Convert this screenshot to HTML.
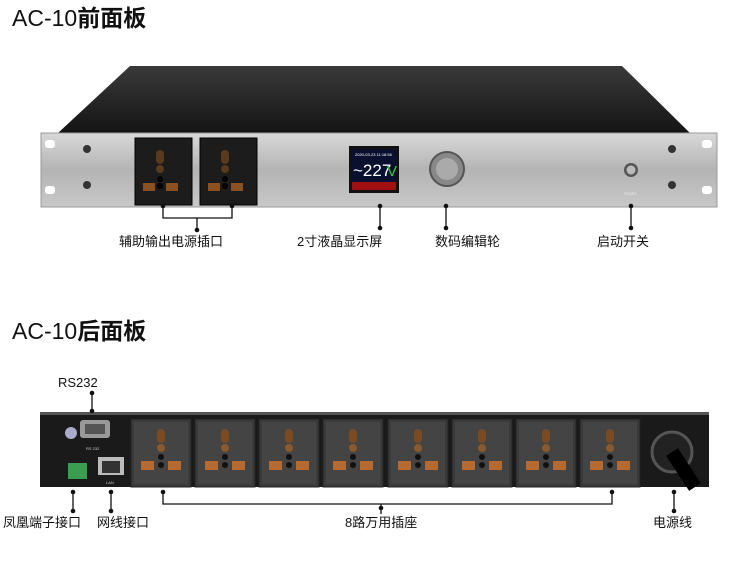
<!DOCTYPE html>
<html><head><meta charset="utf-8"><style>
body{margin:0;background:#fff;width:735px;height:576px;overflow:hidden;font-family:"Liberation Sans","Noto Sans CJK SC",sans-serif}
</style></head><body>
<svg width="735" height="576" xmlns="http://www.w3.org/2000/svg" font-family="Liberation Sans, Noto Sans CJK SC, sans-serif">
<defs>
<linearGradient id="al" x1="0" y1="0" x2="0" y2="1"><stop offset="0" stop-color="#d8d8d8"/><stop offset="0.5" stop-color="#b4b4b4"/><stop offset="1" stop-color="#c8c8c8"/></linearGradient>
<linearGradient id="top" x1="0" y1="0" x2="0" y2="1"><stop offset="0" stop-color="#3a3a3a"/><stop offset="1" stop-color="#141414"/></linearGradient>
<g id="outlet">
<rect x="0" y="0" width="60" height="68" fill="#3a3a3a" stroke="#222"/>
<rect x="3" y="3" width="54" height="62" fill="#444"/>
<rect x="26" y="10" width="8" height="14" rx="4" fill="#7a4a22"/>
<circle cx="30" cy="29" r="4" fill="#8a5a2a"/>
<circle cx="30" cy="38" r="3" fill="#111"/><circle cx="30" cy="46" r="3" fill="#111"/>
<rect x="10" y="42" width="13" height="9" fill="#b46a30"/><rect x="37" y="42" width="13" height="9" fill="#b46a30"/>
</g>
<g id="fout">
<rect x="0" y="0" width="57" height="67" fill="#1c1c1c" stroke="#000"/>
<rect x="21" y="12" width="8" height="14" rx="4" fill="#5a3a1a"/>
<circle cx="25" cy="31" r="4" fill="#5a3a1a"/>
<circle cx="25" cy="41" r="3" fill="#000"/><circle cx="25" cy="48" r="3" fill="#000"/>
<rect x="8" y="45" width="12" height="8" fill="#8a5020"/><rect x="31" y="45" width="12" height="8" fill="#8a5020"/>
</g>
</defs>
<text x="12" y="26" font-size="23" fill="#111"><tspan>AC-10</tspan><tspan font-weight="bold">前面板</tspan></text>
<text x="12" y="339" font-size="23" fill="#111"><tspan>AC-10</tspan><tspan font-weight="bold">后面板</tspan></text>

<!-- front -->
<polygon points="130,66 622,66 690,133 58,133" fill="url(#top)"/>
<rect x="41" y="133" width="676" height="74" fill="url(#al)" stroke="#999"/>
<rect x="45" y="140" width="10" height="8" rx="3" fill="#fff"/><rect x="45" y="186" width="10" height="8" rx="3" fill="#fff"/>
<rect x="702" y="140" width="10" height="8" rx="3" fill="#fff"/><rect x="702" y="186" width="10" height="8" rx="3" fill="#fff"/>
<circle cx="87" cy="149" r="4" fill="#333"/><circle cx="87" cy="185" r="4" fill="#333"/>
<circle cx="672" cy="149" r="4" fill="#333"/><circle cx="672" cy="185" r="4" fill="#333"/>
<use href="#fout" x="135" y="138"/><use href="#fout" x="200" y="138"/>
<rect x="349" y="146" width="50" height="47" fill="#111"/>
<rect x="352" y="149" width="44" height="41" fill="#0a1030"/>
<text x="355" y="156" font-size="4" fill="#fff">2020-03-23  11:18:56</text>
<text x="353" y="176" font-size="17" fill="#fff">~227</text><text x="387" y="176" font-size="15" fill="#3c3">V</text>
<rect x="352" y="182" width="44" height="8" fill="#a01010"/>
<circle cx="447" cy="169" r="17" fill="#888" stroke="#555" stroke-width="2"/>
<circle cx="447" cy="169" r="11" fill="#aaa"/>
<circle cx="631" cy="170" r="7" fill="#555"/><circle cx="631" cy="170" r="4.5" fill="#bbb"/>
<text x="624" y="195" font-size="4" fill="#eee">START</text>
<g stroke="#111" stroke-width="1.3" fill="none">
<path d="M163 206 V218 H232 V206 M197 218 V230"/>
<path d="M380 206 V228 M446 206 V228 M631 206 V228"/>
</g>
<g fill="#111"><circle cx="163" cy="206" r="2.3"/><circle cx="232" cy="206" r="2.3"/><circle cx="197" cy="230" r="2.3"/>
<circle cx="380" cy="206" r="2.3"/><circle cx="380" cy="228" r="2.3"/><circle cx="446" cy="206" r="2.3"/><circle cx="446" cy="228" r="2.3"/><circle cx="631" cy="206" r="2.3"/><circle cx="631" cy="228" r="2.3"/></g>
<g font-size="13" fill="#111">
<text x="119" y="246">辅助输出电源插口</text>
<text x="297" y="246">2寸液晶显示屏</text>
<text x="435" y="246">数码编辑轮</text>
<text x="597" y="246">启动开关</text>
</g>

<!-- rear -->
<rect x="40" y="413" width="669" height="74" fill="#1a1a1a"/>
<rect x="40" y="412" width="669" height="3" fill="#555"/>
<rect x="80" y="420" width="30" height="18" rx="3" fill="#999"/><rect x="85" y="424" width="20" height="10" fill="#555"/>
<circle cx="71" cy="433" r="6" fill="#aac"/>
<text x="86" y="450" font-size="4" fill="#ccc">RS 232</text>
<rect x="68" y="463" width="19" height="16" fill="#3c9c50"/>
<rect x="98" y="457" width="26" height="18" fill="#bbb"/><rect x="102" y="461" width="18" height="12" fill="#333"/>
<text x="106" y="484" font-size="4" fill="#ccc">LAN</text>
<use href="#outlet" x="131" y="419"/><use href="#outlet" x="195" y="419"/><use href="#outlet" x="259" y="419"/><use href="#outlet" x="323" y="419"/>
<use href="#outlet" x="388" y="419"/><use href="#outlet" x="452" y="419"/><use href="#outlet" x="516" y="419"/><use href="#outlet" x="580" y="419"/>
<circle cx="672" cy="452" r="20" fill="#222" stroke="#555" stroke-width="3"/>
<path d="M672 452 L695 487" stroke="#000" stroke-width="14"/>
<g stroke="#111" stroke-width="1.3" fill="none">
<path d="M92 393 V411"/>
<path d="M73 492 V512 M111 492 V512 M163 492 V504 H612 V492 M381 504 V514 M674 492 V512"/>
</g>
<g fill="#111"><circle cx="92" cy="393" r="2.3"/><circle cx="92" cy="411" r="2.3"/>
<circle cx="73" cy="492" r="2.3"/><circle cx="73" cy="511" r="2.3"/><circle cx="111" cy="492" r="2.3"/><circle cx="111" cy="511" r="2.3"/>
<circle cx="163" cy="492" r="2.3"/><circle cx="612" cy="492" r="2.3"/><circle cx="381" cy="508" r="2.3"/>
<circle cx="674" cy="492" r="2.3"/><circle cx="674" cy="511" r="2.3"/></g>
<g font-size="13" fill="#111">
<text x="58" y="387">RS232</text>
<text x="3" y="527">凤凰端子接口</text>
<text x="97" y="527">网线接口</text>
<text x="345" y="527">8路万用插座</text>
<text x="653" y="527">电源线</text>
</g>
</svg>
</body></html>
